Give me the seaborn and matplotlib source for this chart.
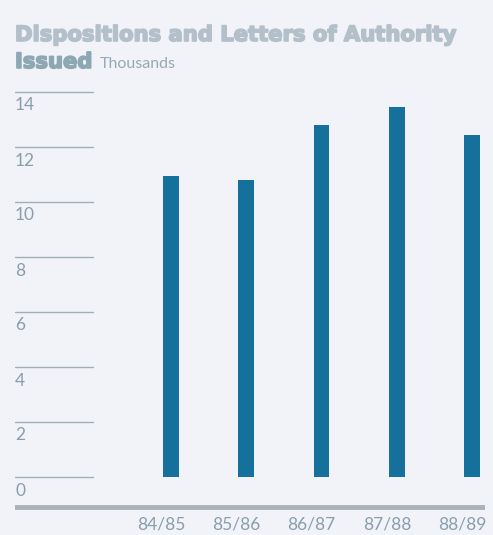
import matplotlib
matplotlib.use("Agg")
import matplotlib.pyplot as plt
import matplotlib.transforms as mtransforms
import matplotlib.patheffects as pe
import seaborn as sns
import pandas as pd

# Data
years = ["84/85", "85/86", "86/87", "87/88", "88/89"]
values = [10.95, 10.8, 12.8, 13.45, 12.45]
y_ticks = [0, 2, 4, 6, 8, 10, 12, 14]

df = pd.DataFrame({"year": years, "value": values})

sns.set_theme(style="white")
plt.rcParams["font.family"] = ["Lato", "DejaVu Sans"]

bg = "#f1f3f9"
bar_color = "#16709c"
tick_color = "#8a9dac"

fig = plt.figure(figsize=(4.93, 5.35), dpi=100, facecolor=bg)
ax = fig.add_axes([15 / 493, 25 / 535, 470 / 493, 420.75 / 535])
ax.set_facecolor(bg)

sns.barplot(data=df, x="year", y="value", color=bar_color, width=0.21,
            saturation=1, ax=ax, zorder=3, linewidth=0, edgecolor=bar_color)

ax.set_xlim(-2.07, 4.17)
ax.set_ylim(-1.2, 14.1)

for s in ax.spines.values():
    s.set_visible(False)
ax.set_yticks([])
ax.set_xlabel("")
ax.set_ylabel("")
ax.tick_params(axis="x", length=0, pad=5, labelsize=12.5, labelcolor=tick_color)
offset = mtransforms.ScaledTranslation(-10 / 100, 0, fig.dpi_scale_trans)
for lab in ax.get_xticklabels():
    lab.set_transform(lab.get_transform() + offset)

# short gridlines with labels beneath
grid_frac = 78 / 470
for t in y_ticks:
    ax.axhline(t, xmin=0, xmax=grid_frac, color="#a3adb7", lw=1.0, zorder=1)
    ax.text(0.0, t - 0.2, str(t), transform=ax.get_yaxis_transform(),
            ha="left", va="top", fontsize=12.5, color=tick_color)

# baseline
ax.axhline(-1.1, xmin=0, xmax=1.0, color="#a9b1b9", lw=3.5, zorder=2)

# title
t1 = fig.text(15 / 493, 1 - 35 / 535, "Dispositions and Letters of Authority",
              fontsize=15.2, fontweight="bold", color="#b3bfc9", va="center",
              ha="left", family="DejaVu Sans")
t2 = fig.text(15 / 493, 1 - 62 / 535, "Issued", fontsize=15.2, fontweight="bold",
              color="#8ea8b3", va="center", ha="left", family="DejaVu Sans")
t1.set_path_effects([pe.withStroke(linewidth=1.2, foreground="#b3bfc9")])
t2.set_path_effects([pe.withStroke(linewidth=1.2, foreground="#8ea8b3")])
fig.text(100 / 493, 1 - 64 / 535, "Thousands", fontsize=11.5,
         color="#97a9b5", va="center", ha="left")

fig.savefig("out.png", dpi=100, facecolor=bg)
